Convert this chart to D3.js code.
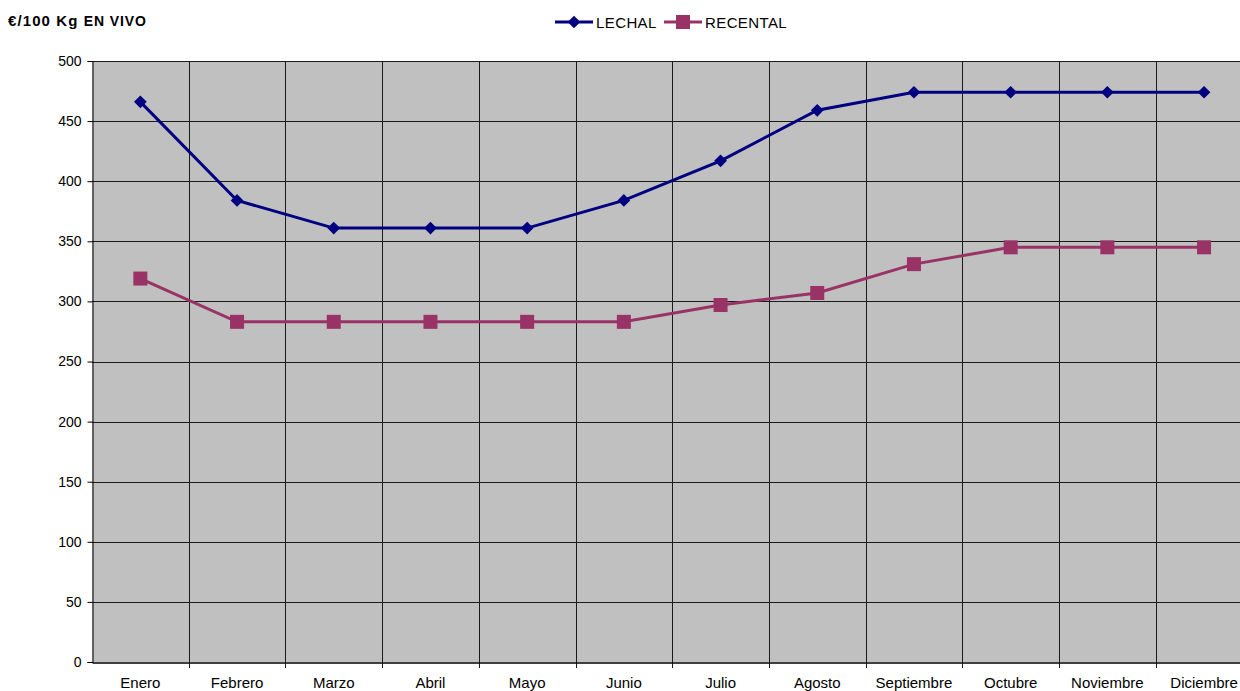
<!DOCTYPE html>
<html>
<head>
<meta charset="utf-8">
<script src="https://cdn.jsdelivr.net/npm/d3@7"></script>
<style>
  html, body { margin: 0; padding: 0; background: #fff; overflow: hidden; }
  svg { display: block; font-family: "Liberation Sans", Arial, sans-serif; }
</style>
</head>
<body>
<svg id="chart" width="1240" height="691"></svg>
<script>
// Monthly price of lamb (€/100 kg live weight)
const months = ["Enero", "Febrero", "Marzo", "Abril", "Mayo", "Junio",
                "Julio", "Agosto", "Septiembre", "Octubre", "Noviembre", "Diciembre"];
const lechal = [466, 384, 361, 361, 361, 384, 417, 459, 474, 474, 474, 474];
const recental = [319, 283, 283, 283, 283, 283, 297, 307, 331, 345, 345, 345];
const yTicks = [0, 50, 100, 150, 200, 250, 300, 350, 400, 450, 500];
const seriesNames = ["LECHAL", "RECENTAL"];

const svg = d3.select("#chart");
const plotLeft = 92, plotTop = 61, plotBottom = 662, bandW = 96.7;
const plotRight = plotLeft + bandW * months.length;

const x = d3.scaleBand().domain(months).range([plotLeft, plotRight]).padding(0);
const y = d3.scaleLinear().domain([0, 500]).range([plotBottom, plotTop]);

// Plot area
svg.append("rect")
  .attr("x", plotLeft).attr("y", plotTop)
  .attr("width", plotRight - plotLeft).attr("height", plotBottom - plotTop)
  .attr("fill", "#c0c0c0");

// Horizontal grid
svg.append("g").selectAll("line").data(yTicks.filter(d => d > 0)).join("line")
  .attr("x1", plotLeft).attr("x2", plotRight)
  .attr("y1", d => Math.round(y(d)) + 0.5).attr("y2", d => Math.round(y(d)) + 0.5)
  .attr("stroke", "#1a1a1a").attr("stroke-width", 1);

// Vertical grid at category boundaries (with small tick below the axis)
svg.append("g").selectAll("line").data(months.slice(1)).join("line")
  .attr("x1", d => Math.round(x(d)) + 0.5).attr("x2", d => Math.round(x(d)) + 0.5)
  .attr("y1", plotTop).attr("y2", plotBottom + 6)
  .attr("stroke", "#1a1a1a").attr("stroke-width", 1);

// Y axis
const yAxis = svg.append("g")
  .attr("transform", `translate(${plotLeft + 0.5},0)`)
  .call(d3.axisLeft(y).tickValues(yTicks).tickSize(5).tickPadding(6));
yAxis.select(".domain").attr("stroke", "#000");
yAxis.selectAll(".tick line").attr("stroke", "#000");
yAxis.selectAll("text").attr("font-size", 14).attr("fill", "#000")
  .attr("font-family", "Liberation Sans, Arial, sans-serif");

// X axis
const xAxis = svg.append("g")
  .attr("transform", `translate(0,${plotBottom + 0.5})`)
  .call(d3.axisBottom(x).tickSize(0).tickPadding(15));
xAxis.select(".domain").attr("stroke", "#000").attr("stroke-width", 1.5);
xAxis.selectAll("text").attr("font-size", 15).attr("fill", "#000")
  .attr("font-family", "Liberation Sans, Arial, sans-serif");

// Lines
const cx = d => x(d) + x.bandwidth() / 2;
const lineGen = vals => d3.line().x((d, i) => cx(months[i])).y(d => y(d))(vals);

const colors = { LECHAL: "#000080", RECENTAL: "#993366" };

svg.append("path").attr("d", lineGen(lechal))
  .attr("fill", "none").attr("stroke", colors.LECHAL).attr("stroke-width", 3);
svg.append("path").attr("d", lineGen(recental))
  .attr("fill", "none").attr("stroke", colors.RECENTAL).attr("stroke-width", 3);

const diamond = d3.symbol().type(d3.symbolSquare).size(81);
svg.append("g").selectAll("path").data(lechal).join("path")
  .attr("d", diamond)
  .attr("transform", (d, i) => `translate(${cx(months[i])},${y(d)}) rotate(45)`)
  .attr("fill", colors.LECHAL);

const sq = 14;
svg.append("g").selectAll("rect").data(recental).join("rect")
  .attr("x", (d, i) => cx(months[i]) - sq / 2).attr("y", d => y(d) - sq / 2)
  .attr("width", sq).attr("height", sq)
  .attr("fill", colors.RECENTAL);

// Unit title
const title = svg.append("text").attr("x", 8).attr("y", 26)
  .attr("font-weight", "bold").attr("fill", "#000");
title.append("tspan").attr("font-size", 15).attr("letter-spacing", 1.1).text("€/100 Kg ");
title.append("tspan").attr("font-size", 14).attr("letter-spacing", 0.9).text("EN VIVO");

// Legend
const legend = svg.append("g");
const legItems = [
  { name: seriesNames[0], x0: 555, shape: "diamond" },
  { name: seriesNames[1], x0: 664, shape: "square" }
];
legItems.forEach(it => {
  const g = legend.append("g");
  g.append("line").attr("x1", it.x0).attr("x2", it.x0 + 38)
    .attr("y1", 22).attr("y2", 22)
    .attr("stroke", colors[it.name]).attr("stroke-width", 3);
  if (it.shape === "diamond") {
    g.append("path").attr("d", diamond)
      .attr("transform", `translate(${it.x0 + 19},22) rotate(45)`)
      .attr("fill", colors[it.name]);
  } else {
    g.append("rect").attr("x", it.x0 + 19 - sq / 2).attr("y", 22 - sq / 2)
      .attr("width", sq).attr("height", sq).attr("fill", colors[it.name]);
  }
  g.append("text").attr("x", it.x0 + 41).attr("y", 27.5)
    .attr("font-size", 15).attr("letter-spacing", 0.4)
    .attr("fill", "#000").text(it.name);
});
</script>
</body>
</html>
